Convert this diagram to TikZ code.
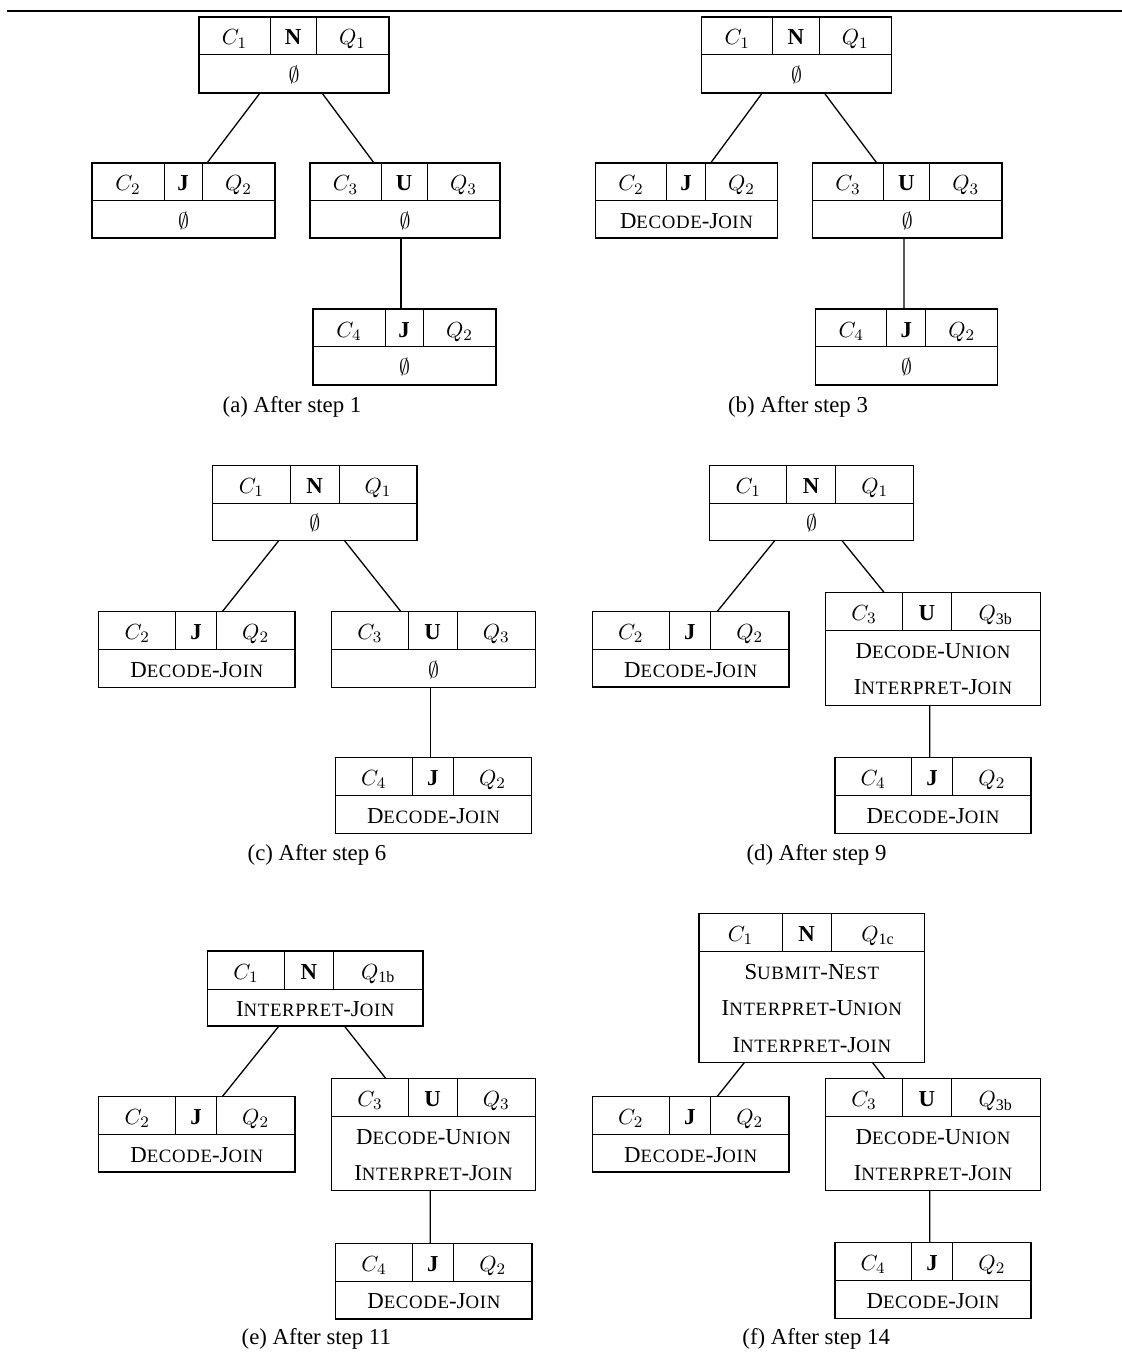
\documentclass[tikz,border=0pt]{standalone}
\usepackage{fontspec}
\setmainfont{Liberation Serif}
\newfontfamily\scfam[LetterSpace=3.5]{Liberation Serif}
\usetikzlibrary{fit}
\newcommand\fsc[2]{{\scfam #1{\fontsize{9.4}{10}\selectfont #2}}}
\def\tboxparse#1/#2/#3/#4/#5/#6\relax{\def\bxl{#1}\def\bva{#2}\def\bvb{#3}\def\bxr{#4}\def\byt{#5}\def\byb{#6}}
\newcommand\tbox[6]{%
  \tboxparse#2\relax
  \node[frame, fit={(\bxl,\byt)(\bxr,\byb)}] (#1) {};
  \draw[divider] (\bxl,\byt+38) -- (\bxr,\byt+38);
  \draw[divider] (\bva,\byt) -- (\bva,\byt+38);
  \draw[divider] (\bvb,\byt) -- (\bvb,\byt+38);
  \node[txt] (#1-c) at ({(\bxl+\bva)/2},\byt+28) {$#3$};
  \node[txt] (#1-o) at ({(\bva+\bvb)/2},\byt+28) {\textbf{#4}};
  \node[txt] (#1-q) at ({(\bvb+\bxr)/2},\byt+28) {$#5$};
  \foreach \bline [count=\i] in {#6}{\node[txt] (#1-l\i) at ({(\bxl+\bxr)/2},{\byt+65.5+(\i-1)*36.5}) {\bline};}
}
\newcommand\txDJ{\fsc{D}{ECODE}-\fsc{J}{OIN}}
\newcommand\txDU{\fsc{D}{ECODE}-\fsc{U}{NION}}
\newcommand\txIJ{\fsc{I}{NTERPRET}-\fsc{J}{OIN}}
\newcommand\txIU{\fsc{I}{NTERPRET}-\fsc{U}{NION}}
\newcommand\txSN{\fsc{S}{UBMIT}-\fsc{N}{EST}}
\begin{document}
\begin{tikzpicture}[x=0.5pt,y=-0.5pt,
  frame/.style={draw, line width=0.75pt, inner sep=0pt, outer sep=0pt},
  divider/.style={line width=0.5pt},
  edge/.style={line width=0.65pt},
  txt/.style={anchor=base, inner sep=0pt, font=\fontsize{11.4}{13.7}\selectfont},
  captxt/.style={anchor=base, inner sep=0pt, font=\fontsize{11.4}{13.7}\selectfont}]
\useasboundingbox (0,0) rectangle (1122,1353);
\draw[line width=1.1pt] (7,11) -- (1122,11);

% (a)
\tbox{rootA}{199/270/316/389/17/93}{C_1}{N}{Q_1}{$\emptyset$}
\tbox{c2A}{92/164/202/275/163/238}{C_2}{J}{Q_2}{$\emptyset$}
\tbox{c3A}{310/381/427/500/163/238}{C_3}{U}{Q_3}{$\emptyset$}
\tbox{c4A}{313/385/423/496/309/385}{C_4}{J}{Q_2}{$\emptyset$}
\draw[edge] ([xshift=-17pt]rootA.south) -- ([xshift=11.75pt]c2A.north);
\draw[edge] ([xshift=14pt]rootA.south) -- ([xshift=-15.5pt]c3A.north);
\draw[edge] ([xshift=-2pt]c3A.south) -- ([xshift=-1.75pt]c4A.north);
\node[captxt] (capA) at (292,412) {(a) After step 1};

% (b)
\tbox{rootB}{701.7/772.7/819/891.3/17/93}{C_1}{N}{Q_1}{$\emptyset$}
\tbox{c2B}{595.3/666.7/705.3/777.7/163/238}{C_2}{J}{Q_2}{\txDJ}
\tbox{c3B}{812.7/883.3/929.3/1002/163/238}{C_3}{U}{Q_3}{$\emptyset$}
\tbox{c4B}{815.7/886.7/925.7/997.7/309/385}{C_4}{J}{Q_2}{$\emptyset$}
\draw[edge] ([xshift=-17.1pt]rootB.south) -- ([xshift=12.1pt]c2B.north);
\draw[edge] ([xshift=13.9pt]rootB.south) -- ([xshift=-15.3pt]c3B.north);
\draw[edge] ([xshift=-1.7pt]c3B.south) -- ([xshift=-1.35pt]c4B.north);
\node[captxt] (capB) at (798,412) {(b) After step 3};

% (c)
\tbox{rootC}{212.7/290/339/417/465.3/540.3}{C_1}{N}{Q_1}{$\emptyset$}
\tbox{c2C}{98.7/175.7/216.3/295/611.7/687.3}{C_2}{J}{Q_2}{\txDJ}
\tbox{c3C}{331.7/408/457/535.3/611.7/687.3}{C_3}{U}{Q_3}{$\emptyset$}
\tbox{c4C}{335.3/412.3/453.3/531.7/757.7/833.3}{C_4}{J}{Q_2}{\txDJ}
\draw[edge] ([xshift=-17.9pt]rootC.south) -- ([xshift=12.7pt]c2C.north);
\draw[edge] ([xshift=14.7pt]rootC.south) -- ([xshift=-16.25pt]c3C.north);
\draw[edge] ([xshift=-1.6pt]c3C.south) -- ([xshift=-1.6pt]c4C.north);
\node[captxt] (capC) at (317,860) {(c) After step 6};

% (d)
\tbox{rootD}{709.7/786.7/835.7/913.7/465.3/540.3}{C_1}{N}{Q_1}{$\emptyset$}
\tbox{c2D}{592.3/669.3/710.3/789/611.7/687}{C_2}{J}{Q_2}{\txDJ}
\tbox{c3D}{825.7/902.3/951.3/1040.3/592.7/705.3}{C_3}{U}{Q_{\mathrm{3b}}}{\txDU,\txIJ}
\tbox{c4D}{835/911.3/952.7/1031/757.7/833.3}{C_4}{J}{Q_2}{\txDJ}
\draw[edge] ([xshift=-18.35pt]rootD.south) -- ([xshift=13.2pt]c2D.north);
\draw[edge] ([xshift=15pt]rootD.south) -- ([xshift=-24.35pt]c3D.north);
\draw[edge] ([xshift=-1.65pt]c3D.south) -- ([xshift=-1.65pt]c4D.north);
\node[captxt] (capD) at (816.5,860) {(d) After step 9};

% (e)
\tbox{rootE}{207.7/284.3/333.3/423/951/1026}{C_1}{N}{Q_{\mathrm{1b}}}{\txIJ}
\tbox{c2E}{98.7/175.7/216.3/295/1096.7/1172}{C_2}{J}{Q_2}{\txDJ}
\tbox{c3E}{331.7/408.3/457/535.3/1078.7/1190.7}{C_3}{U}{Q_3}{\txDU,\txIJ}
\tbox{c4E}{335.7/412.3/453.3/532/1243.3/1319}{C_4}{J}{Q_2}{\txDJ}
\draw[edge] ([xshift=-18.2pt]rootE.south) -- ([xshift=12.7pt]c2E.north);
\draw[edge] ([xshift=14.5pt]rootE.south) -- ([xshift=-23.75pt]c3E.north);
\draw[edge] ([xshift=-1.6pt]c3E.south) -- ([xshift=-1.8pt]c4E.north);
\node[captxt] (capE) at (316.3,1344) {(e) After step 11};

% (f)
\tbox{rootF}{699/782/831.3/924.7/913.7/1062.7}{C_1}{N}{Q_{\mathrm{1c}}}{\txSN,\txIU,\txIJ}
\tbox{c2F}{592.3/669.3/710.3/789/1096.7/1172}{C_2}{J}{Q_2}{\txDJ}
\tbox{c3F}{825.7/902.3/951.3/1040.3/1078.7/1190.7}{C_3}{U}{Q_{\mathrm{3b}}}{\txDU,\txIJ}
\tbox{c4F}{835/911.3/952.7/1031/1242.7/1318.3}{C_4}{J}{Q_2}{\txDJ}
\draw[edge] ([xshift=-33.8pt]rootF.south) -- ([xshift=13.2pt]c2F.north);
\draw[edge] ([xshift=30.4pt]rootF.south) -- ([xshift=-24pt]c3F.north);
\draw[edge] ([xshift=-1.65pt]c3F.south) -- ([xshift=-1.65pt]c4F.north);
\node[captxt] (capF) at (816.2,1344) {(f) After step 14};
\end{tikzpicture}
\end{document}
